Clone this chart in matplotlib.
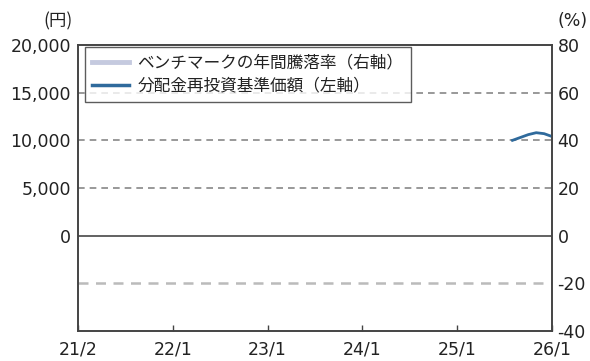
import matplotlib
matplotlib.use("Agg")
import matplotlib.pyplot as plt
from matplotlib.lines import Line2D

plt.rcParams['font.family'] = ['Noto Sans CJK JP', 'DejaVu Sans']

# months since 2021/1
fund_months = [55, 56, 57, 58, 59, 60]
fund_nav = [10000, 10300, 10600, 10800, 10700, 10400]   # 分配金再投資基準価額（左軸）
bench_months = []
bench_ret = []   # ベンチマークの年間騰落率（右軸） – no data shown

left_ticks = [0, 5000, 10000, 15000, 20000]
left_labels = ['0', '5,000', '10,000', '15,000', '20,000']
right_ticks = [-40, -20, 0, 20, 40, 60, 80]
right_labels = ['-40', '-20', '0', '20', '40', '60', '80']
x_ticks = [0, 12, 24, 36, 48, 60]
x_labels = ['21/2', '22/1', '23/1', '24/1', '25/1', '26/1']

fund_color = '#2f6a9c'
bench_color = '#c5cadf'
num_font = 'DejaVu Sans'

fig = plt.figure(figsize=(5.9, 3.61), dpi=100)
ax = fig.add_axes([78/590, 1-331/361, (552-78)/590, (331-45)/361])
ax2 = ax.twinx()

ax.set_xlim(0, 60)
ax.set_ylim(-10000, 20000)
ax2.set_ylim(-40, 80)

# grid lines
for v in [5000, 10000, 15000]:
    ax.axhline(v, color='#888888', lw=1.2, ls=(0, (4, 3)), zorder=1)
ax.axhline(-5000, color='#bbbbbb', lw=1.8, ls=(0, (4, 3)), zorder=1)
ax.axhline(0, color='#555555', lw=1.3, zorder=2)

ax2.plot(bench_months, bench_ret, color=bench_color, lw=3)
ax.plot(fund_months, fund_nav, color=fund_color, lw=2, zorder=5)

ax.set_yticks(left_ticks)
ax.set_yticklabels(left_labels, fontfamily=num_font)
ax2.set_yticks(right_ticks)
ax2.set_yticklabels(right_labels, fontfamily=num_font)
ax.set_xticks(x_ticks)
ax.set_xticklabels(x_labels, fontfamily=num_font)

for a in (ax, ax2):
    for s in a.spines.values():
        s.set_color('#444444')
        s.set_linewidth(1.2)

ax.tick_params(axis='y', length=0, pad=5, labelsize=12.5, colors='#222222')
ax2.tick_params(axis='y', length=0, pad=4, labelsize=12.5, colors='#222222')
ax.tick_params(axis='x', direction='in', length=4, width=1, color='#444444',
               pad=7, labelsize=12.5, labelcolor='#222222')

fig.text(58/590, 1-21/361, '(円)', ha='center', va='center', fontsize=12.5, color='#222222')
fig.text(573/590, 1-21/361, '(%)', ha='center', va='center', fontsize=12.5,
         color='#222222', fontfamily=num_font)

handles = [Line2D([], [], color=bench_color, lw=3.5),
           Line2D([], [], color=fund_color, lw=2.5)]
labels = ['ベンチマークの年間騰落率（右軸）', '分配金再投資基準価額（左軸）']
leg = ax2.legend(handles, labels, loc='upper left', bbox_to_anchor=(0.014, 0.993),
                 fontsize=12, frameon=True, fancybox=False, borderpad=0.45,
                 labelspacing=0.38, handlelength=2.2, handletextpad=0.5,
                 borderaxespad=0)
leg.get_frame().set_edgecolor('#333333')
leg.get_frame().set_linewidth(1.0)
for t in leg.get_texts():
    t.set_color('#222222')

fig.savefig('out.png', dpi=100)
